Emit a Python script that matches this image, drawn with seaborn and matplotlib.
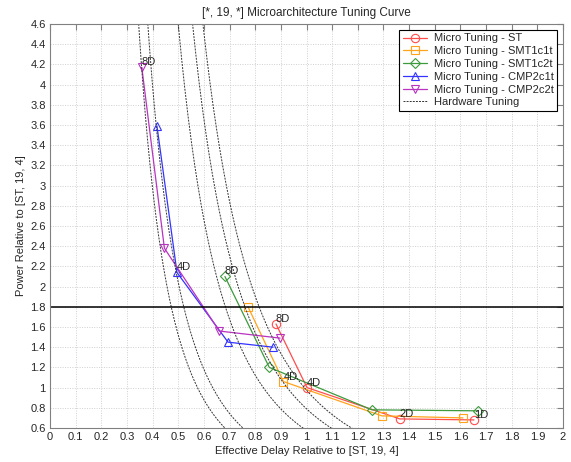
import numpy as np
import pandas as pd
import matplotlib
matplotlib.use("Agg")
import matplotlib.pyplot as plt
import seaborn as sns

# ---- data ----
series_names = ["Micro Tuning - ST", "Micro Tuning - SMT1c1t", "Micro Tuning - SMT1c2t",
                "Micro Tuning - CMP2c1t", "Micro Tuning - CMP2c2t"]
st_delay = [0.881, 1.002, 1.364, 1.653]
st_power = [1.63, 1.00, 0.69, 0.68]
smt1c1t_delay = [0.772, 0.910, 1.294, 1.610]
smt1c1t_power = [1.80, 1.06, 0.72, 0.70]
smt1c2t_delay = [0.682, 0.855, 1.255, 1.669]
smt1c2t_power = [2.10, 1.20, 0.78, 0.77]
cmp2c1t_delay = [0.417, 0.495, 0.694, 0.870]
cmp2c1t_power = [3.59, 2.14, 1.45, 1.40]
cmp2c2t_delay = [0.358, 0.446, 0.660, 0.897]
cmp2c2t_power = [4.17, 2.38, 1.56, 1.49]

# point labels: (series index, point index, text)
point_labels = [(0, 0, "8D"), (0, 1, "4D"), (0, 2, "2D"), (0, 3, "1D"),
                (1, 1, "4D"), (2, 0, "8D"), (3, 1, "4D"), (4, 0, "8D")]

# hardware tuning curves: power = k * delay^-3
hw_constants = [0.19, 0.255, 0.575, 0.79, 0.975]
hw_exponent = 3
power_limit = 1.8

x_ticks = [round(0.1 * i, 1) for i in range(21)]
y_ticks = [round(0.6 + 0.2 * i, 1) for i in range(21)]

colors = ["#ff4d4d", "#ffa31a", "#3d9a3d", "#3333ff", "#b833c0"]
markers = ["o", "s", "D", "^", "v"]
msizes = [6, 5.5, 5, 6, 6]

delays = [st_delay, smt1c1t_delay, smt1c2t_delay, cmp2c1t_delay, cmp2c2t_delay]
powers = [st_power, smt1c1t_power, smt1c2t_power, cmp2c1t_power, cmp2c2t_power]

sns.set_style("white")
plt.rcParams['font.family'] = ['Liberation Sans', 'DejaVu Sans']

fig = plt.figure(figsize=(5.71, 4.62), dpi=100)
ax = fig.add_axes([50 / 571, 34 / 462, 513 / 571, 404 / 462])

for i, name in enumerate(series_names):
    df = pd.DataFrame({"delay": delays[i], "power": powers[i]})
    sns.lineplot(data=df, x="delay", y="power", sort=False, ax=ax, color=colors[i],
                 marker=markers[i], markersize=msizes[i], markerfacecolor="none",
                 markeredgecolor=colors[i], markeredgewidth=0.8, linewidth=0.9,
                 label=name, estimator=None)

xs = np.linspace(0.3, 2.0, 400)
for j, k in enumerate(hw_constants):
    hw = pd.DataFrame({"delay": xs, "power": k * xs ** (-hw_exponent)})
    sns.lineplot(data=hw, x="delay", y="power", ax=ax, color="#333333",
                 linestyle=(0, (2, 1.2)), linewidth=0.7, estimator=None,
                 label="Hardware Tuning" if j == 0 else None)

ax.axhline(power_limit, color="black", linewidth=1.1)

for si, pi, txt in point_labels:
    ax.annotate(txt, (delays[si][pi], powers[si][pi]), xytext=(0, 0),
                textcoords="offset points", ha="left", va="bottom", fontsize=8)

ax.set_xlim(0, 2)
ax.set_ylim(0.6, 4.6)
ax.set_xticks(x_ticks)
ax.set_xticklabels([f"{v:g}" for v in x_ticks])
ax.set_yticks(y_ticks)
ax.set_yticklabels([f"{v:g}" for v in y_ticks])
ax.grid(True, color="#d0d0d0", linestyle=(0, (1, 1.5)), linewidth=0.7)
ax.tick_params(direction="in", length=4, width=0.8, color="#808080", labelsize=8,
               top=True, right=True, pad=3)
for sp in ax.spines.values():
    sp.set_color("#808080")
    sp.set_linewidth(0.8)

ax.set_title("[*, 19, *] Microarchitecture Tuning Curve", fontsize=8.5, pad=6)
ax.set_xlabel("Effective Delay Relative to [ST, 19, 4]", fontsize=8, labelpad=3)
ax.set_ylabel("Power Relative to [ST, 19, 4]", fontsize=8, labelpad=3)

leg = ax.legend(loc="upper right", fontsize=8, frameon=True, fancybox=False,
                edgecolor="black", framealpha=1, borderpad=0.35, labelspacing=0.25,
                handlelength=2.2, handletextpad=0.6, borderaxespad=0.5)
leg.get_frame().set_linewidth(0.8)

fig.savefig("out.png", dpi=100)
